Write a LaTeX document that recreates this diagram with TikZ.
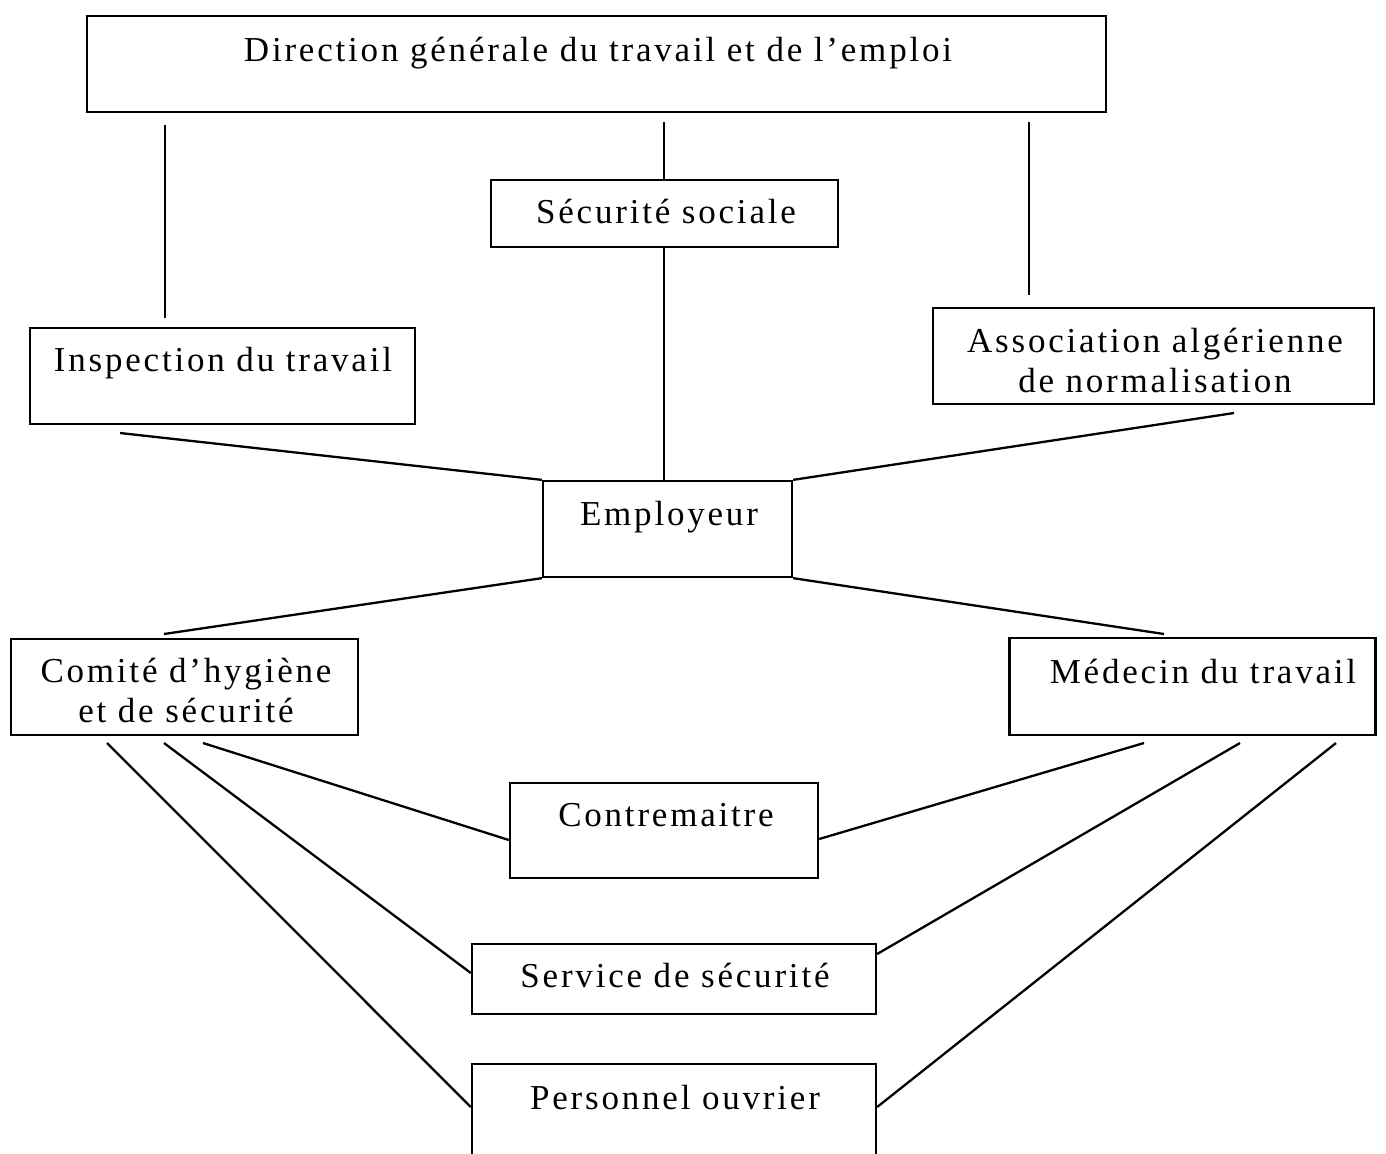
\documentclass[tikz,border=0pt]{standalone}
\usepackage{fontspec}
\setmainfont{Liberation Serif}[LetterSpace=8]
\begin{document}
\begin{tikzpicture}[x=0.5pt, y=-0.5pt,
  box/.style={draw, line width=1.15pt, rectangle, inner sep=0pt},
  lbl/.style={anchor=base, inner sep=0pt, align=center,
    font=\fontsize{17.5}{20}\selectfont},
  link/.style={line width=1.15pt}]
\clip (0,0) rectangle (1386,1153);
\fill[white] (0,0) rectangle (1386,1153);

% boxes
\node[box, minimum width=1019*0.5pt, minimum height=96*0.5pt] (dir) at (596.5,64) {};
\node[box, minimum width=347*0.5pt, minimum height=67*0.5pt] (secu) at (664.5,213.5) {};
\node[box, minimum width=385*0.5pt, minimum height=96*0.5pt] (insp) at (222.5,376) {};
\node[box, minimum width=441*0.5pt, minimum height=96*0.5pt] (assoc) at (1153.5,356) {};
\node[box, minimum width=249*0.5pt, minimum height=96*0.5pt] (emp) at (667.5,529) {};
\node[box, minimum width=347*0.5pt, minimum height=96*0.5pt] (comite) at (184.5,687) {};
\node[box, minimum width=366*0.5pt, minimum height=97*0.5pt] (med) at (1192.5,686.5) {};
\node[box, minimum width=308*0.5pt, minimum height=95*0.5pt] (contre) at (664,830.5) {};
\node[box, minimum width=404*0.5pt, minimum height=70*0.5pt] (serv) at (674,979) {};
\node[box, minimum width=404*0.5pt, minimum height=160*0.5pt] (pers) at (674,1144) {};

% labels (two-line labels are placed by the baseline of their last line)
\node[lbl] (tdir) at (598,61) {Direction générale du travail et de l’emploi};
\node[lbl] (tsecu) at (666,223) {Sécurité sociale};
\node[lbl] (tinsp) at (223,371) {Inspection du travail};
\node[lbl] (tassoc) at (1155,392) {Association algérienne\\de normalisation};
\node[lbl] (temp) at (669,525) {Employeur};
\node[lbl] (tcomite) at (186,722) {Comité d’hygiène\\et de sécurité};
\node[lbl] (tmed) at (1203,683) {Médecin du travail};
\node[lbl] (tcontre) at (666,826) {Contremaitre};
\node[lbl] (tserv) at (675,987) {Service de sécurité};
\node[lbl] (tpers) at (675,1109) {Personnel ouvrier};

% free line ends
\coordinate (d1) at (165,125);
\coordinate (i1) at (165,318);
\coordinate (d2) at (664,122);
\coordinate (d3) at (1029,122);
\coordinate (a1) at (1029,295);
\coordinate (i2) at (120,433);
\coordinate (a2) at (1234,413);
\coordinate (c1) at (164,634);
\coordinate (m1) at (1164,634);
\coordinate (c2) at (107,743);
\coordinate (c3) at (164,743);
\coordinate (c4) at (203,743);
\coordinate (m2) at (1144,743);
\coordinate (m3) at (1240,743);
\coordinate (m4) at (1336,743);

% connectors
\draw[link] (d1) -- (i1);
\draw[link] (d2) -- (d2 |- secu.north);
\draw[link] (d3) -- (a1);
\draw[link] (d2 |- secu.south) -- (d2 |- emp.north);
\draw[link] (i2) -- (emp.north west);
\draw[link] (a2) -- (emp.north east);
\draw[link] (emp.south west) -- (c1);
\draw[link] (emp.south east) -- (m1);
\draw[link] (c2) -- (pers.west |- 0,1107);
\draw[link] (c3) -- (serv.west |- 0,973);
\draw[link] (c4) -- (contre.west |- 0,840);
\draw[link] (m2) -- (contre.east |- 0,839);
\draw[link] (m3) -- (serv.east |- 0,954);
\draw[link] (m4) -- (pers.east |- 0,1107);
\end{tikzpicture}
\end{document}
